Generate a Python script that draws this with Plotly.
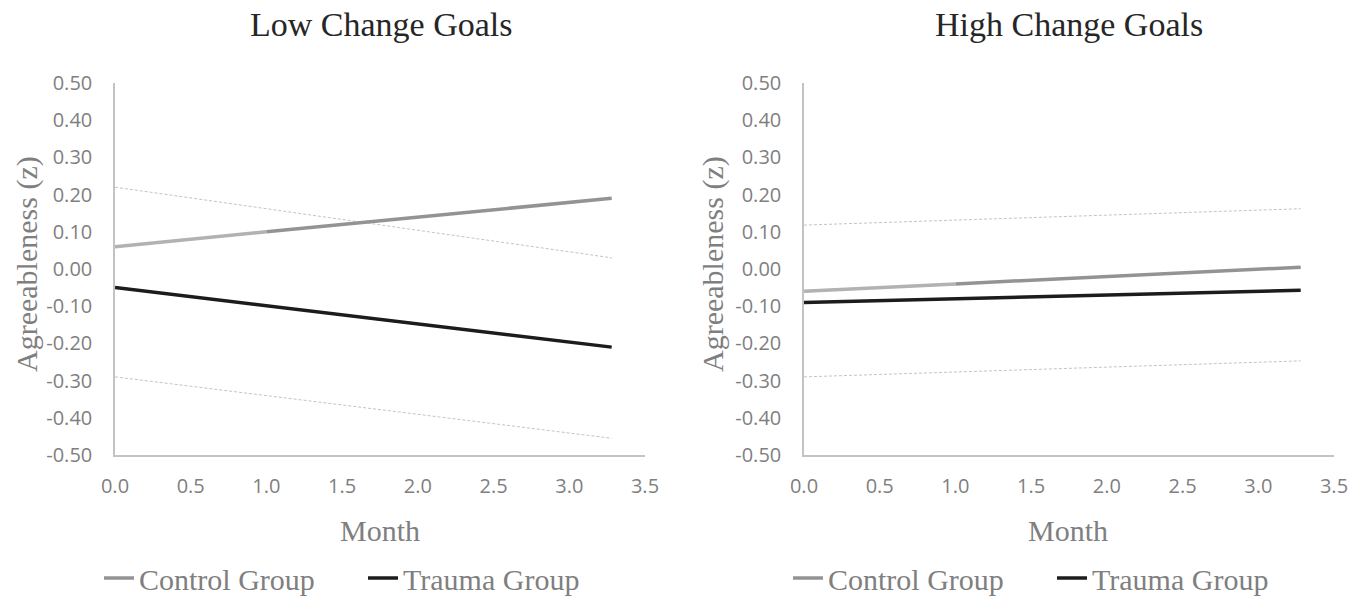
import plotly.graph_objects as go

# ---- data ----
months_ends = [0.0, 3.28]
months_split = [0.0, 1.0, 3.28]

low_control = [0.06, 0.10, 0.19]
low_trauma = [-0.05, -0.21]
low_upper = [0.22, 0.03]
low_lower = [-0.29, -0.455]

high_control = [-0.06, -0.04, 0.005]
high_trauma = [-0.09, -0.057]
high_upper = [0.118, 0.162]
high_lower = [-0.29, -0.247]

panel_titles = ["Low Change Goals", "High Change Goals"]
y_ticks = [0.5, 0.4, 0.3, 0.2, 0.1, 0.0, -0.1, -0.2, -0.3, -0.4, -0.5]
y_tick_text = ["0.50", "0.40", "0.30", "0.20", "0.10", "0.00", "-0.10", "-0.20", "-0.30", "-0.40", "-0.50"]
x_ticks = [0.0, 0.5, 1.0, 1.5, 2.0, 2.5, 3.0, 3.5]
x_tick_text = ["0.0", "0.5", "1.0", "1.5", "2.0", "2.5", "3.0", "3.5"]

SERIF = "Liberation Serif"
SANS = "Open Sans"
GRAY_TXT = "#7f7f7f"
CTRL_LIGHT = "#b2b2b2"
CTRL_DARK = "#939393"
TRAUMA = "#1c1c1c"
CI = "#c4c4c4"

W, H = 1362, 598

def px_x(p):
    return p / W

def px_y(p):
    return 1 - p / H

fig = go.Figure()

panels = [
    ("x", "y", "legend", low_control, low_trauma, low_upper, low_lower),
    ("x2", "y2", "legend2", high_control, high_trauma, high_upper, high_lower),
]

for xa, ya, lg, ctrl, trau, up, lo in panels:
    fig.add_trace(go.Scatter(x=months_ends, y=up, xaxis=xa, yaxis=ya, mode="lines",
                             line=dict(color=CI, width=1, dash="3px,2px"), showlegend=False, hoverinfo="skip"))
    fig.add_trace(go.Scatter(x=months_ends, y=lo, xaxis=xa, yaxis=ya, mode="lines",
                             line=dict(color=CI, width=1, dash="3px,2px"), showlegend=False, hoverinfo="skip"))
    fig.add_trace(go.Scatter(x=months_split[:2], y=ctrl[:2], xaxis=xa, yaxis=ya, mode="lines",
                             line=dict(color=CTRL_LIGHT, width=3.5), showlegend=False))
    fig.add_trace(go.Scatter(x=months_split[1:], y=ctrl[1:], xaxis=xa, yaxis=ya, mode="lines",
                             line=dict(color=CTRL_DARK, width=3.5), name="Control Group",
                             legend=lg, showlegend=True))
    fig.add_trace(go.Scatter(x=months_ends, y=trau, xaxis=xa, yaxis=ya, mode="lines",
                             line=dict(color=TRAUMA, width=3.5), name="Trauma Group",
                             legend=lg, showlegend=True))

xdoms = [[px_x(115), px_x(645)], [px_x(804), px_x(1334)]]
ydom = [px_y(455), px_y(83)]

axis_common = dict(showgrid=False, zeroline=False, showline=True, linecolor="#c3c3c3", linewidth=1.5,
                   tickfont=dict(family=SANS, size=20, color=GRAY_TXT), ticks="", fixedrange=True,
                   automargin=False)

layout = dict(
    width=W, height=H, margin=dict(l=0, r=0, t=0, b=0, autoexpand=False),
    paper_bgcolor="white", plot_bgcolor="white",
    showlegend=True,
)
for i, (xn, yn) in enumerate([("xaxis", "yaxis"), ("xaxis2", "yaxis2")]):
    anchor_y = "y" if i == 0 else "y2"
    anchor_x = "x" if i == 0 else "x2"
    layout[xn] = dict(axis_common, domain=xdoms[i], range=[0, 3.5], tickvals=x_ticks, ticktext=x_tick_text,
                      anchor=anchor_y, ticklabelstandoff=12)
    layout[yn] = dict(axis_common, domain=ydom, range=[-0.5, 0.5], tickvals=y_ticks, ticktext=y_tick_text,
                      anchor=anchor_x, ticklabelstandoff=17, showline=True)

legend_common = dict(orientation="h", font=dict(family=SERIF, size=30, color=GRAY_TXT),
                     bgcolor="rgba(0,0,0,0)", yanchor="middle", xanchor="left",
                     itemwidth=30, tracegroupgap=0, entrywidth=219, entrywidthmode="pixels")
layout["legend"] = dict(legend_common, x=px_x(99), y=px_y(578))
layout["legend2"] = dict(legend_common, x=px_x(788), y=px_y(578))

fig.update_layout(**layout)

annotations = []
title_x = [381, 1069]
axis_title_x = [380, 1068]
ytitle_x = [27, 713]
for i in range(2):
    annotations.append(dict(text=panel_titles[i], x=px_x(title_x[i]), y=px_y(25), xref="paper", yref="paper",
                            showarrow=False, xanchor="center", yanchor="middle",
                            font=dict(family=SERIF, size=34, color="#262626")))
    annotations.append(dict(text="Month", x=px_x(axis_title_x[i]), y=px_y(530), xref="paper", yref="paper",
                            showarrow=False, xanchor="center", yanchor="middle",
                            font=dict(family=SERIF, size=30, color=GRAY_TXT)))
    annotations.append(dict(text="Agreeableness (z)", x=px_x(ytitle_x[i]), y=px_y(264), xref="paper", yref="paper",
                            showarrow=False, xanchor="center", yanchor="middle", textangle=-90,
                            font=dict(family=SERIF, size=30, color=GRAY_TXT)))
fig.update_layout(annotations=annotations)

fig.write_html("out.html", config={"displayModeBar": False},
               post_script="document.body.style.margin='0';document.body.style.overflow='hidden';")
